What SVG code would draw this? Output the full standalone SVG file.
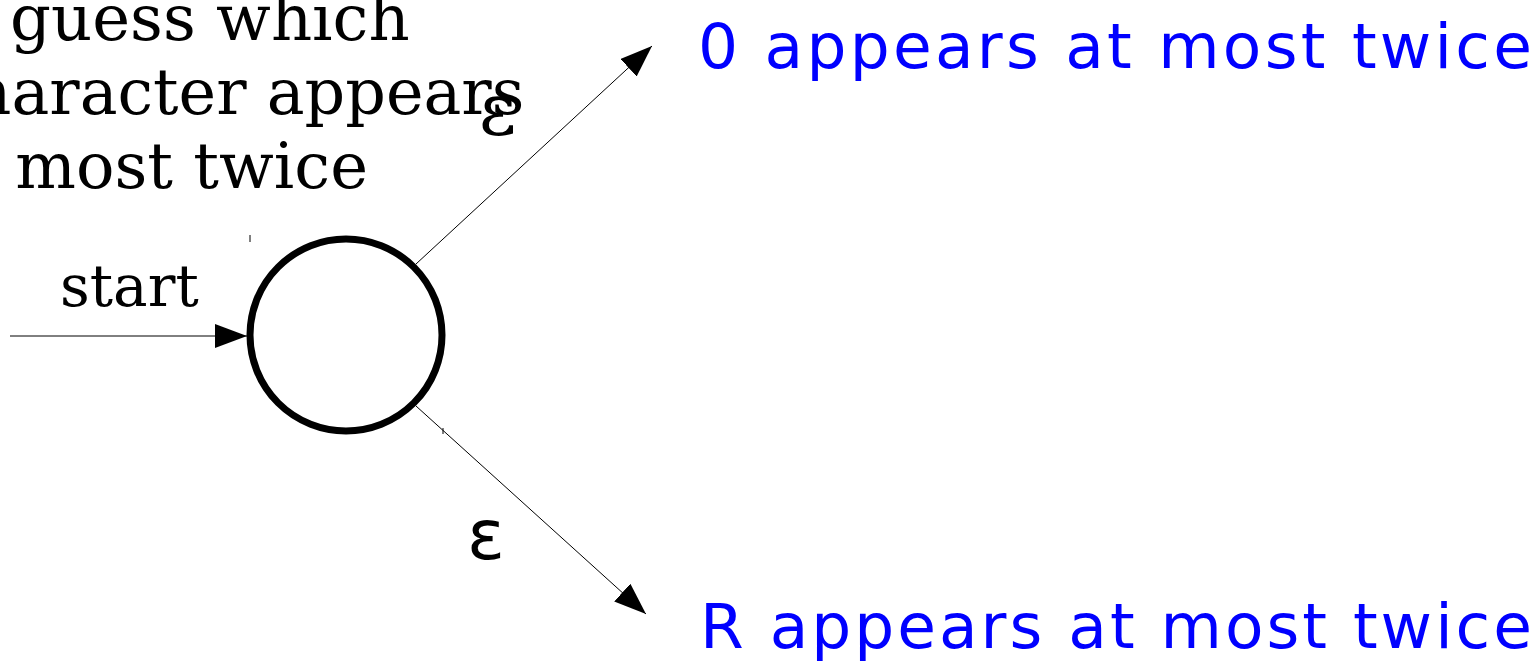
<svg xmlns="http://www.w3.org/2000/svg" width="1540" height="661" viewBox="0 0 1540 661">
<style>
.serif{font-family:"DejaVu Serif","Liberation Serif",serif;fill:#000}
.hand{font-family:"DejaVu Sans","Noto Sans",sans-serif;fill:#0000ff;font-size:63px}
.edge{stroke:#000;stroke-width:1;fill:none;marker-end:url(#arr)}
.state{fill:#fff;stroke:#000;stroke-width:7}
</style>
<defs>
<marker id="arr" markerUnits="userSpaceOnUse" markerWidth="34" markerHeight="24" refX="32" refY="12" orient="auto">
<path d="M0,0 L32,12 L0,24 Z" fill="#000"/>
</marker>
</defs>
<rect width="1540" height="661" fill="#fff"/>
<g id="note">
<text class="serif" font-size="64" x="10" y="40">guess which</text>
<text class="serif" font-size="63.5" x="-65" y="114">character appears</text>
<text class="serif" font-size="64" x="-69" y="188">at most twice</text>
</g>
<g id="connectors">
<line class="edge" x1="416" y1="264" x2="652" y2="46"/>
<line class="edge" x1="416" y1="406" x2="646" y2="614"/>
<line class="edge" x1="10" y1="336" x2="247" y2="336"/>
<line x1="250" y1="235" x2="250" y2="242" stroke="#000" stroke-width="1"/>
<line x1="443" y1="428" x2="443" y2="434" stroke="#000" stroke-width="1"/>
<text class="serif" font-size="58" x="60" y="306">start</text>
<text class="serif" font-size="72" x="479" y="135">ε</text>
<text font-family="DejaVu Sans,sans-serif" font-size="70" x="467" y="559">ε</text>
</g>
<g id="q0">
<circle class="state" cx="346" cy="335" r="96"/>
</g>
<g id="qO">
<text class="hand" x="698" y="68" textLength="834" lengthAdjust="spacing">0 appears at most twice</text>
</g>
<g id="qR">
<text class="hand" x="700" y="648" textLength="832" lengthAdjust="spacing">R appears at most twice</text>
</g>
</svg>
